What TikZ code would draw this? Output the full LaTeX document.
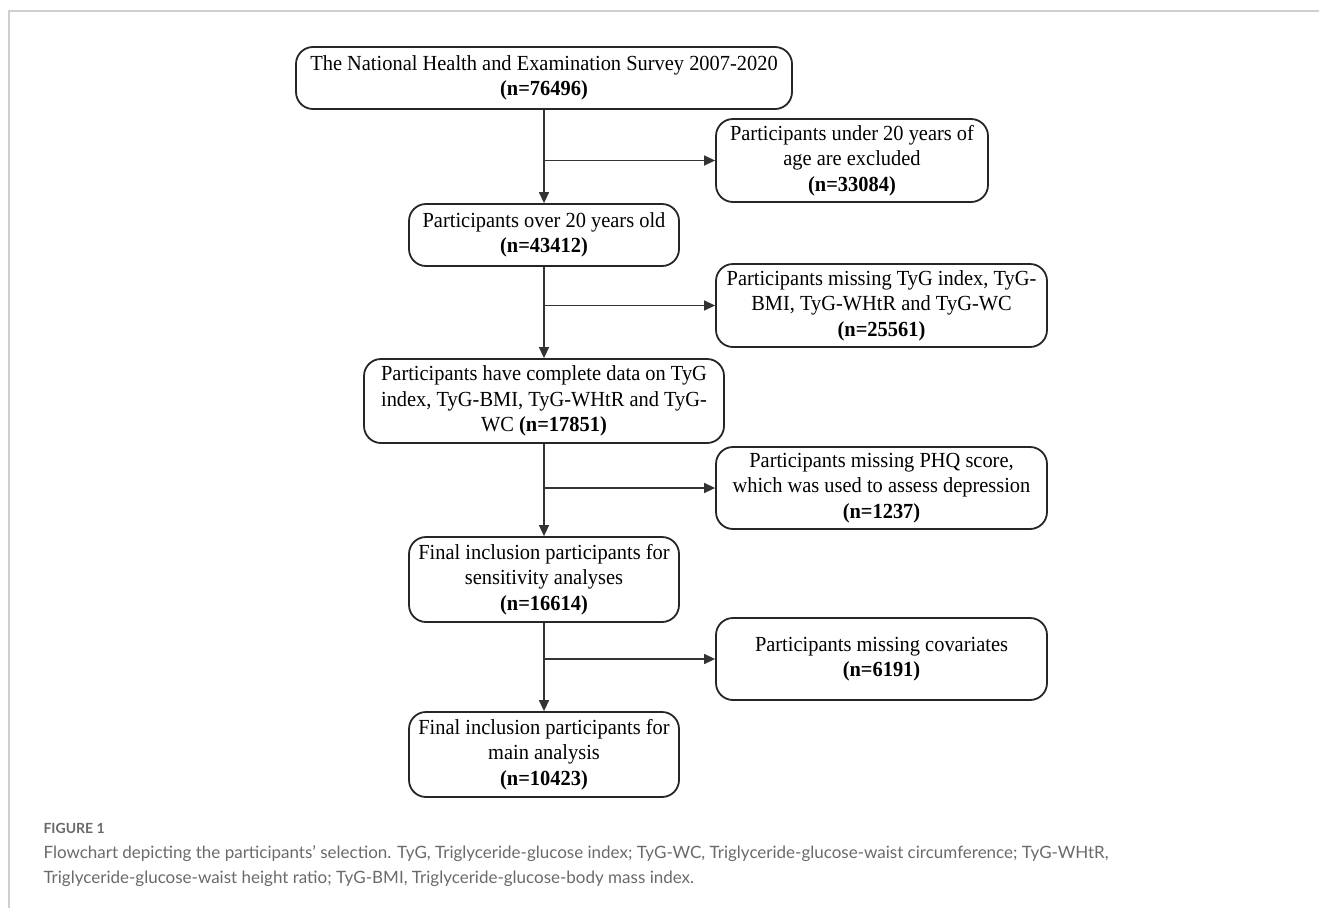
\documentclass[tikz,border=0pt]{standalone}
\usepackage{fontspec}
\setmainfont[FakeStretch=0.95]{Liberation Serif}
\newfontfamily\capfont{Lato}
\usepackage{tikz}
\usetikzlibrary{arrows.meta,positioning}
\definecolor{framegray}{HTML}{CFCFCF}
\definecolor{capgray}{HTML}{6A6A6A}
\tikzstyle{block} = [draw=black!85, line width=1.8pt, rounded corners=17pt, align=center, inner sep=0pt, font=\fontsize{21.5}{25.5}\selectfont]
\tikzset{
  line/.style ={draw=black!80, line width=1.4pt, -{Triangle[length=11pt,width=10pt]}}
}

\begin{document}
\begin{tikzpicture}[x=1pt,y=-1pt]
  \useasboundingbox (0,0) rectangle (1319,908);
  \draw[framegray, line width=1.5pt] (9,908) -- (9,11) -- (1319,11);

  % main column
  \node[block, minimum width=496pt, minimum height=62pt] (survey) at (544,78) {The National Health and Examination Survey 2007-2020\\\textbf{(n=76496)}};
  \node[block, minimum width=270pt, minimum height=62pt] (over20) at (544,235) {Participants over 20 years old\\\textbf{(n=43412)}};
  \node[block, minimum width=360pt, minimum height=84pt] (complete) at (544,401) {Participants have complete data on TyG\\index, TyG-BMI, TyG-WHtR and TyG-\\WC \textbf{(n=17851)}};
  \node[block, minimum width=270pt, minimum height=85pt] (sens) at (544,579.5) {Final inclusion participants for\\sensitivity analyses\\\textbf{(n=16614)}};
  \node[block, minimum width=270pt, minimum height=85pt] (final) at (544,754.5) {Final inclusion participants for\\main analysis\\\textbf{(n=10423)}};

  % excluded
  \node[block, minimum width=272pt, minimum height=83pt] (under20) at (852,160.5) {Participants under 20 years of\\age are excluded\\\textbf{(n=33084)}};
  \node[block, minimum width=331pt, minimum height=83pt] (misstyg) at (881.5,305.5) {Participants missing TyG index, TyG-\\BMI, TyG-WHtR and TyG-WC\\\textbf{(n=25561)}};
  \node[block, minimum width=331pt, minimum height=82pt] (missphq) at (881.5,488) {Participants missing PHQ score,\\which was used to assess depression\\\textbf{(n=1237)}};
  \node[block, minimum width=331pt, minimum height=82pt] (misscov) at (881.5,659) {Participants missing covariates\\\textbf{(n=6191)}};

  \begin{scope}[every path/.style=line]
    \path (survey) -- (over20);
    \path (over20) -- (complete);
    \path (complete) -- (sens);
    \path (sens) -- (final);
    \path (survey.south |- under20.west) -- (under20.west);
    \path (over20.south |- misstyg.west) -- (misstyg.west);
    \path (complete.south |- missphq.west) -- (missphq.west);
    \path (sens.south |- misscov.west) -- (misscov.west);
  \end{scope}

  % caption
  \node[anchor=west, text=capgray, font=\capfont\bfseries\fontsize{14}{16}\selectfont] (fig) at (40,828) {FIGURE 1};
  \node[anchor=north west, align=left, text=capgray, font=\capfont\fontsize{17}{25}\selectfont] (caption) at (40,842) {Flowchart depicting the participants’ selection. TyG, Triglyceride-glucose index; TyG-WC, Triglyceride-glucose-waist circumference; TyG-WHtR,\\Triglyceride-glucose-waist height ratio; TyG-BMI, Triglyceride-glucose-body mass index.};
\end{tikzpicture}
\end{document}
